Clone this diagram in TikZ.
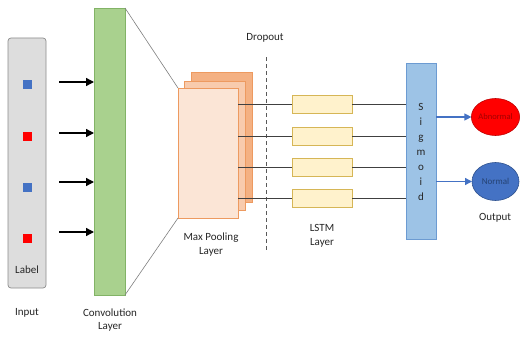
\documentclass[tikz,border=0pt]{standalone}
\usepackage{fontspec}
\setmainfont{Carlito}
\usetikzlibrary{arrows.meta,shapes.geometric}
\definecolor{inputgray}{HTML}{DDDDDD}
\definecolor{inputborder}{HTML}{8C8C8C}
\definecolor{sqblue}{HTML}{4472C4}
\definecolor{sqred}{HTML}{FF0000}
\definecolor{convgreen}{HTML}{A9D18E}
\definecolor{convborder}{HTML}{82B366}
\definecolor{pool1}{HTML}{FBE5D6}
\definecolor{pool2}{HTML}{F8CBAD}
\definecolor{pool3}{HTML}{F4B183}
\definecolor{poolborder}{HTML}{ED9A60}
\definecolor{lstmfill}{HTML}{FFF2CC}
\definecolor{lstmborder}{HTML}{D6B656}
\definecolor{sigfill}{HTML}{9DC3E6}
\definecolor{sigborder}{HTML}{6C9BD2}
\definecolor{arrowblue}{HTML}{4472C4}
\definecolor{abnborder}{HTML}{C00000}
\definecolor{normborder}{HTML}{2F528F}
\definecolor{linegray}{HTML}{404040}
\tikzset{
  x=1pt, y=-1pt,
  every node/.style={inner sep=0pt, outer sep=0pt},
  lbl/.style={font=\fontsize{11}{13.5}\selectfont, text=black!85, align=center},
  sq/.style={minimum width=9pt, minimum height=9pt, draw=none},
  blackarrow/.style={-{Triangle[length=8pt,width=8pt]}, line width=1.4pt, black},
  bluearrow/.style={-{Triangle[length=7pt,width=7pt]}, line width=1.3pt, arrowblue},
  poolbox/.style={draw=poolborder, line width=0.6pt, minimum width=60pt, minimum height=130pt},
  lstmbox/.style={draw=lstmborder, fill=lstmfill, line width=0.6pt, minimum width=60pt, minimum height=18pt},
  conn/.style={linegray, line width=0.7pt},
  trap/.style={gray, line width=0.6pt},
}
\begin{document}
\begin{tikzpicture}
\useasboundingbox[fill=white] (0,0) rectangle (529,337);
% input
\node[draw=inputborder, fill=inputgray, rounded corners=3pt, line width=0.7pt, minimum width=38pt, minimum height=250pt] (inp) at (27,163) {};
\node[sq, fill=sqblue] (s1) at (27,84) {};
\node[sq, fill=sqred] (s2) at (27,136) {};
\node[sq, fill=sqblue] (s3) at (27,187) {};
\node[sq, fill=sqred] (s4) at (27,238) {};
\node[lbl] (lab) at (27,270) {Label};
\node[lbl] (inlab) at (27,313) {Input};
% conv
\node[draw=convborder, fill=convgreen, line width=0.6pt, minimum width=31pt, minimum height=287pt] (conv) at (109.5,151.5) {};
\node[lbl] (convlab) at (110,320) {Convolution\\Layer};
\coordinate (a1) at (59,82);
\coordinate (a2) at (59,133);
\coordinate (a3) at (59,182);
\coordinate (a4) at (59,232);
\foreach \i in {1,2,3,4}{
  \draw[blackarrow] (a\i) -- (conv.west |- a\i);
}
% pooling
\node[poolbox, fill=pool3, minimum width=61pt] (p3) at (221.5,137) {};
\node[poolbox, fill=pool2, minimum width=61pt, minimum height=129pt] (p2) at (214.5,145.5) {};
\node[poolbox, fill=pool1, minimum width=60pt] (p1) at (208,153) {};
\node[lbl] (poollab) at (211,244.5) {Max Pooling\\Layer};
\draw[trap] (conv.north east) -- (p1.north west);
\draw[trap] (conv.south east) -- (p1.south west);
% dropout
\coordinate (d1) at (266,57);
\coordinate (d2) at (266,250);
\draw[gray!70!black, line width=0.6pt, dash pattern=on 4pt off 3pt] (d1) -- (d2);
\node[lbl] (droplab) at (265,38) {Dropout};
% LSTM
\node[lstmbox] (l1) at (322,104) {};
\node[lstmbox] (l2) at (322,136) {};
\node[lstmbox] (l3) at (322,167) {};
\node[lstmbox] (l4) at (322,198) {};
\node[lbl] (lstmlab) at (322,236) {LSTM\\Layer};
% sigmoid
\node[draw=sigborder, fill=sigfill, line width=0.6pt, minimum width=30pt, minimum height=176pt] (sig) at (421,151) {};
\node[lbl, align=center, font=\fontsize{11}{15}\selectfont] (sigtxt) at (421,152) {S\\i\\g\\m\\o\\i\\d};
\foreach \i in {1,2,3,4}{
  \draw[conn] (p1.east |- l\i) -- (l\i.west);
  \draw[conn] (l\i.east) -- (sig.west |- l\i);
}
% outputs
\node[ellipse, draw=abnborder, fill=sqred, line width=0.6pt, minimum width=47pt, minimum height=37pt, font=\fontsize{8.5}{10}\selectfont, text=abnborder!85!black] (abn) at (495.5,117) {Abnormal};
\node[ellipse, draw=normborder, fill=sqblue, line width=0.6pt, minimum width=47pt, minimum height=38pt, font=\fontsize{9}{10}\selectfont, text=normborder!80!black] (norm) at (495.5,181.5) {Normal};
\draw[bluearrow] (sig.east |- abn) -- (abn.west);
\draw[bluearrow] (sig.east |- norm) -- (norm.west);
\node[lbl] (outlab) at (495,218) {Output};
\end{tikzpicture}
\end{document}
